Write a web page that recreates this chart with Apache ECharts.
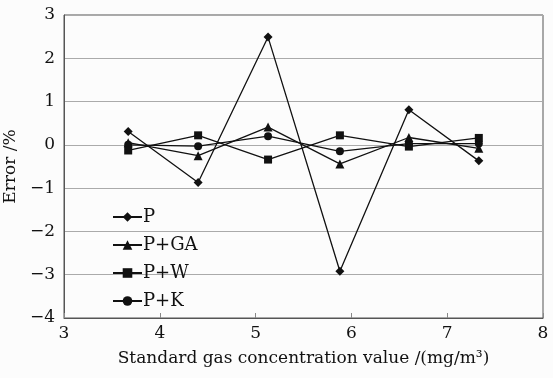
<!DOCTYPE html>
<html><head><meta charset="utf-8">
<script src="https://cdn.jsdelivr.net/npm/echarts@6/dist/echarts.min.js"></script>
<style>html,body{margin:0;padding:0;background:#fcfcfc}#c{width:553px;height:378px}</style>
</head><body><div id="c"></div>
<script>
const xValues = [3.67, 4.40, 5.13, 5.88, 6.60, 7.33];
const seriesNames = ['P', 'P+GA', 'P+W', 'P+K'];
const pValues = [0.31, -0.87, 2.49, -2.92, 0.81, -0.37];
const pgaValues = [0.05, -0.25, 0.41, -0.44, 0.17, -0.08];
const pwValues = [-0.13, 0.22, -0.34, 0.22, -0.04, 0.16];
const pkValues = [0.0, -0.03, 0.20, -0.15, 0.03, 0.03];
const symbols = ['diamond', 'triangle', 'rect', 'circle'];
const symbolSizes = [9, 9, 8, 8];
const allValues = [pValues, pgaValues, pwValues, pkValues];

const font = 'DejaVu Serif';
const fmt = v => String(v).replace('-', '\u2212');
const chart = echarts.init(document.getElementById('c'));
chart.setOption({
  backgroundColor: '#fcfcfc',
  animation: false,
  grid: { left: 64, right: 10, top: 15, bottom: 60, show: true, borderColor: '#555', borderWidth: 1,
          containLabel: false, outerBoundsMode: 'none' },
  xAxis: {
    type: 'value', min: 3, max: 8, interval: 1,
    name: 'Standard gas concentration value /(mg/m\u00b3)',
    nameLocation: 'middle', nameGap: 32,
    nameTextStyle: { fontFamily: font, fontSize: 17, color: '#111' },
    axisLine: { show: true, onZero: false, lineStyle: { color: '#555' } },
    axisTick: { show: true, inside: true, length: 5, lineStyle: { color: '#888' } },
    axisLabel: { fontFamily: font, fontSize: 17, color: '#111', margin: 7 },
    splitLine: { show: false }
  },
  yAxis: {
    type: 'value', min: -4, max: 3, interval: 1,
    name: 'Error /%', nameLocation: 'middle', nameGap: 42,
    nameTextStyle: { fontFamily: font, fontSize: 17, color: '#111' },
    axisLine: { show: true, lineStyle: { color: '#555' } },
    axisTick: { show: false },
    axisLabel: { fontFamily: font, fontSize: 17, color: '#111', margin: 9, formatter: fmt },
    splitLine: { show: true, lineStyle: { color: '#aaa', width: 1 } }
  },
  legend: {
    orient: 'vertical', left: 107, top: 203, itemGap: 10, itemWidth: 29, itemHeight: 12,
    textStyle: { fontFamily: font, fontSize: 18, color: '#111', padding: [0, 0, 0, -4] },
    data: seriesNames
  },
  series: seriesNames.map((n, i) => ({
    name: n, type: 'line',
    data: xValues.map((x, j) => [x, allValues[i][j]]),
    symbol: symbols[i], symbolSize: symbolSizes[i],
    itemStyle: { color: '#111' },
    lineStyle: { color: '#111', width: 1.3 },
    z: 10 - i
  }))
});
</script></body></html>
